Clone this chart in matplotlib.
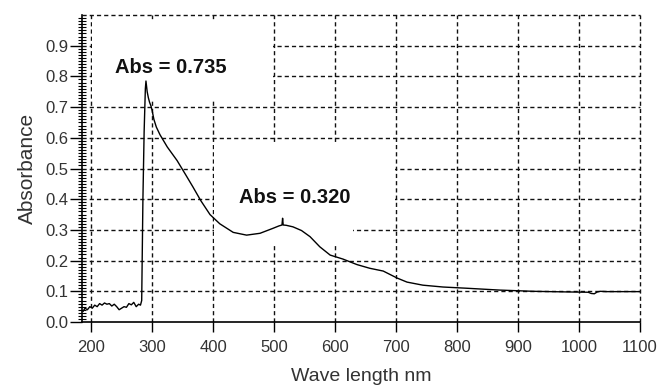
import matplotlib
matplotlib.use("Agg")
import matplotlib.pyplot as plt
from matplotlib.patches import Rectangle
import numpy as np

plt.rcParams["font.family"] = ["Liberation Sans", "DejaVu Sans"]

# spectrum
wavelength = [187, 190, 194, 198, 202, 206, 210, 214, 218, 222,
              226, 230, 234, 238, 242, 246, 250, 254, 258, 262,
              266, 270, 274, 278, 281, 283, 285, 287, 289, 290,
              292, 294, 296, 298, 300, 303, 307, 313, 325, 341,
              355, 367, 380, 395, 411, 433, 455, 477, 498, 508,
              513, 514, 515, 520, 531, 545, 559, 575, 592, 613,
              636, 657, 679, 702, 718, 744, 777, 816, 870, 925,
              980, 1015, 1020, 1025, 1030, 1035, 1045, 1100]
absorbance = [0.035, 0.045, 0.04, 0.05, 0.045, 0.055, 0.05, 0.06, 0.055, 0.062,
              0.058, 0.06, 0.052, 0.058, 0.05, 0.04, 0.045, 0.05, 0.048, 0.06,
              0.056, 0.064, 0.05, 0.058, 0.055, 0.07, 0.40, 0.62, 0.76, 0.785,
              0.75, 0.73, 0.715, 0.705, 0.69, 0.66, 0.635, 0.61, 0.57, 0.526,
              0.48, 0.44, 0.395, 0.35, 0.32, 0.292, 0.283, 0.289, 0.305, 0.313,
              0.316, 0.338, 0.316, 0.315, 0.31, 0.298, 0.278, 0.245, 0.218, 0.205,
              0.187, 0.175, 0.166, 0.143, 0.13, 0.12, 0.114, 0.11, 0.104, 0.10,
              0.098, 0.097, 0.093, 0.092, 0.098, 0.10, 0.099, 0.099]

x_ticks = [200, 300, 400, 500, 600, 700, 800, 900, 1000, 1100]
y_ticks = [0.0, 0.1, 0.2, 0.3, 0.4, 0.5, 0.6, 0.7, 0.8, 0.9]
y_tick_labels = ["0.0", "0.1", "0.2", "0.3", "0.4", "0.5", "0.6", "0.7", "0.8", "0.9"]
peak_labels = ["Abs = 0.735", "Abs = 0.320"]
peak_label_pos = [(330, 0.83), (534, 0.405)]

fig = plt.figure(figsize=(6.66, 3.89), dpi=100)
ax = fig.add_axes([0.123, 0.1722, 0.838, 0.7892])

ax.set_xlim(185, 1100)
ax.set_ylim(0, 1.0)

# dashed grid, incl. the top and right border
grid_style = dict(color="#111111", linewidth=1.0, linestyle=(0, (3, 2.2)), zorder=1)
for xv in x_ticks:
    ax.axvline(xv, clip_on=False, **grid_style)
for yv in y_ticks[1:] + [1.0]:
    ax.axhline(yv, clip_on=False, **grid_style)

# white areas behind the labels in the original
ax.add_patch(Rectangle((202, 0.72), 297, 0.265, facecolor="white", edgecolor="none", zorder=1.5))
ax.add_patch(Rectangle((402, 0.33), 296, 0.25, facecolor="white", edgecolor="none", zorder=1.5))
ax.add_patch(Rectangle((402, 0.25), 228, 0.08, facecolor="white", edgecolor="none", zorder=1.5))

ax.plot(wavelength, absorbance, color="black", linewidth=1.0, zorder=3)

for txt, (px, py) in zip(peak_labels, peak_label_pos):
    ax.text(px, py, txt, fontsize=14.5, fontweight="bold", color="#111111",
            ha="center", va="center", zorder=4)

ax.spines["top"].set_visible(False)
ax.spines["right"].set_visible(False)
ax.spines["left"].set_linewidth(1.2)
ax.spines["bottom"].set_linewidth(1.2)

ax.set_xticks(x_ticks)
ax.set_xticks([1000], minor=True)
ax.set_yticks(y_ticks)
ax.set_yticklabels(y_tick_labels)
ax.set_yticks(np.arange(0, 100) / 100, minor=True)

ax.tick_params(axis="x", which="major", direction="out", length=7, width=1,
               labelsize=12, labelcolor="#333333", pad=6)
ax.tick_params(axis="x", which="minor", direction="out", length=13, width=1)
ax.tick_params(axis="y", which="major", direction="out", length=9, width=1,
               labelsize=12, labelcolor="#333333", pad=1)
ax.tick_params(axis="y", which="minor", direction="inout", length=6, width=0.8)

ax.set_xlabel("Wave length nm", fontsize=14, color="#333333", labelpad=9)
ax.set_ylabel("Absorbance", fontsize=15, color="#333333", labelpad=6)

fig.savefig("out.png", dpi=100, facecolor="white")
